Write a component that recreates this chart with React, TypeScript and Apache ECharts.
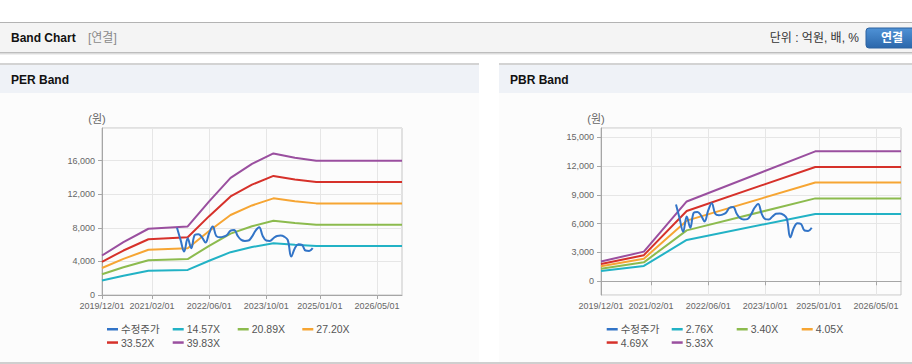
import { useEffect, useRef } from "react";
import * as echarts from "echarts";

// ---- categories (monthly, 2019/12 .. 2026/12) ----
const months: string[] = [];
for (let i = 0; i < 85; i++) {
  const t = 2019 * 12 + 11 + i;
  const y = Math.floor(t / 12);
  const m = (t % 12) + 1;
  months.push(`${y}/${String(m).padStart(2, "0")}/01`);
}
const tickLabels = ["2019/12/01", "2021/02/01", "2022/06/01", "2023/10/01", "2025/01/01", "2026/05/01"];

// ---- price (수정주가), monthly ----
const priceDates = [
  "2021/09/01", "2021/10/01", "2021/11/01", "2021/12/01", "2022/01/01", "2022/02/01", "2022/03/01",
  "2022/04/01", "2022/05/01", "2022/06/01", "2022/07/01", "2022/08/01", "2022/09/01", "2022/10/01",
  "2022/11/01", "2022/12/01", "2023/01/01", "2023/02/01", "2023/03/01", "2023/04/01", "2023/05/01",
  "2023/06/01", "2023/07/01", "2023/08/01", "2023/09/01", "2023/10/01", "2023/11/01", "2023/12/01",
  "2024/01/01", "2024/02/01", "2024/03/01", "2024/04/01", "2024/05/01", "2024/06/01", "2024/07/01",
  "2024/08/01", "2024/09/01", "2024/10/01", "2024/11/01",
];
const priceValues = [
  8000, 6560, 5170, 6750, 5570, 7150, 7230,
  6870, 6240, 7350, 8140, 7030, 6870, 6950,
  7150, 7660, 7740, 7030, 6560, 6440, 6480,
  6950, 7660, 8060, 7030, 6480, 6440, 6750,
  7030, 7070, 6950, 6560, 4580, 5570, 6040,
  5960, 5290, 5250, 5570,
];

// ---- PER band ----
const perNames = ["14.57X", "20.89X", "27.20X", "33.52X", "39.83X"];
const perDates = [
  "2019/12/01", "2020/06/01", "2021/01/01", "2021/12/01", "2022/06/01", "2022/12/01",
  "2023/06/01", "2023/12/01", "2024/06/01", "2024/12/01", "2026/12/01",
];
const per1 = [1719, 2302, 2885, 2987, 4080, 5100, 5711, 6163, 5974, 5843, 5843];
const per2 = [2465, 3301, 4136, 4282, 5849, 7312, 8189, 8836, 8565, 8377, 8377];
const per3 = [3210, 4298, 5386, 5576, 7616, 9520, 10662, 11506, 11152, 10907, 10907];
const per4 = [3955, 5296, 6637, 6872, 9386, 11732, 13140, 14179, 13743, 13442, 13442];
const per5 = [4700, 6293, 7886, 8165, 11152, 13941, 15613, 16848, 16330, 15972, 15972];

// ---- PBR band ----
const pbrNames = ["2.76X", "3.40X", "4.05X", "4.69X", "5.33X"];
const pbrDates = ["2019/12/01", "2020/12/01", "2021/12/01", "2024/12/01", "2026/12/01"];
const pbr1 = [1063, 1601, 4306, 7010, 7010];
const pbr2 = [1309, 1972, 5304, 8636, 8636];
const pbr3 = [1559, 2349, 6318, 10287, 10287];
const pbr4 = [1806, 2720, 7316, 11913, 11913];
const pbr5 = [2052, 3091, 8315, 13538, 13538];

const priceName = "수정주가";
const bandColors = ["#22b2c5", "#8cbb4e", "#f6a533", "#d6312a", "#9a4f9f"];
const priceColor = "#3274c7";

const FONT = "'Liberation Sans', 'Noto Sans CJK KR', sans-serif";

const zip = (dates: string[], vals: number[]) => dates.map((d, i) => [d, vals[i]]);
const isTick = (_i: number, v: string) => tickLabels.includes(v);

function makeAxes(gi: number) {
  return {
    type: "category",
    gridIndex: gi,
    data: months,
    boundaryGap: false,
    axisLine: { show: true, lineStyle: { color: "#a6a6a6", width: 1 } },
    axisTick: { show: true, interval: isTick, length: 4, lineStyle: { color: "#a6a6a6" } },
    axisLabel: { interval: isTick, fontSize: 9, color: "#666", margin: 6, fontFamily: FONT },
    splitLine: { show: true, interval: isTick, lineStyle: { color: "#e6e6e6", width: 1 } },
  };
}

function bandSeries(names: string[], dates: string[], arrays: number[][], gi: number) {
  return names.map((n, k) => ({
    type: "line",
    name: n,
    xAxisIndex: gi,
    yAxisIndex: gi,
    data: zip(dates, arrays[k]),
    showSymbol: false,
    symbol: "none",
    lineStyle: { color: bandColors[k], width: 2 },
    itemStyle: { color: bandColors[k] },
    z: 2,
  }));
}

function priceSeries(gi: number) {
  return {
    type: "line",
    name: priceName,
    xAxisIndex: gi,
    yAxisIndex: gi,
    data: zip(priceDates, priceValues),
    smooth: 0.4,
    showSymbol: false,
    symbol: "none",
    lineStyle: { color: priceColor, width: 2 },
    itemStyle: { color: priceColor },
    z: 3,
  };
}

function makeLegends(names: string[], colX: number[], rowY: number[]) {
  return names.map((n, i) => ({
    data: [n],
    left: colX[i % 4],
    top: rowY[Math.floor(i / 4)] - 6,
    icon: "rect",
    itemWidth: 11,
    itemHeight: 2.5,
    itemGap: 0,
    padding: 0,
    selectedMode: false,
    textStyle: { fontSize: 10.5, color: "#555", fontFamily: FONT, padding: [0, 0, 0, -2] },
  }));
}

const option: any = {
  animation: false,
  textStyle: { fontFamily: FONT },
  graphic: {
    elements: [
      { type: "rect", z: -10, shape: { x: 0, y: 22, width: 912, height: 1 }, style: { fill: "#b3b3b3" } },
      { type: "rect", z: -10, shape: { x: 0, y: 23, width: 912, height: 30 }, style: { fill: "#f4f4f4" } },
      { type: "rect", z: -10, shape: { x: 0, y: 52, width: 912, height: 1 }, style: { fill: "#bdbdbd" } },
      { type: "rect", z: -10, shape: { x: 0, y: 53, width: 912, height: 1 }, style: { fill: "#dcdcdc" } },
      { type: "rect", z: -10, shape: { x: 0, y: 54, width: 912, height: 1 }, style: { fill: "#efefef" } },
      { type: "text", z: 10, x: 11, y: 38, style: { text: "Band Chart", fill: "#111", font: `bold 12px ${FONT}`, textVerticalAlign: "middle" } },
      { type: "text", z: 10, x: 88, y: 38, style: { text: "[연결]", fill: "#8a8a8a", font: `12px ${FONT}`, textVerticalAlign: "middle" } },
      { type: "text", z: 10, x: 859, y: 38, style: { text: "단위 : 억원, 배, %", fill: "#333", font: `12px ${FONT}`, textAlign: "right", textVerticalAlign: "middle" } },
      {
        type: "rect", z: 5, shape: { x: 866, y: 28, width: 54, height: 20, r: 3 },
        style: {
          fill: new echarts.graphic.LinearGradient(0, 0, 0, 1, [
            { offset: 0, color: "#4f92d6" },
            { offset: 1, color: "#2b67ab" },
          ]),
          stroke: "#2c62a0",
        },
      },
      { type: "text", z: 10, x: 892, y: 38, style: { text: "연결", fill: "#fff", font: `bold 12px ${FONT}`, textAlign: "center", textVerticalAlign: "middle" } },

      // left panel
      { type: "rect", z: -10, shape: { x: 0, y: 63, width: 479, height: 2 }, style: { fill: "#d3d3d3" } },
      { type: "rect", z: -10, shape: { x: 0, y: 65, width: 479, height: 28 }, style: { fill: "#eff2f7" } },
      { type: "rect", z: -10, shape: { x: 0, y: 93, width: 479, height: 269 }, style: { fill: "#fcfcfc" } },
      { type: "text", z: 10, x: 11, y: 80, style: { text: "PER Band", fill: "#111", font: `bold 12px ${FONT}`, textVerticalAlign: "middle" } },
      // right panel
      { type: "rect", z: -10, shape: { x: 499, y: 63, width: 413, height: 2 }, style: { fill: "#d3d3d3" } },
      { type: "rect", z: -10, shape: { x: 499, y: 65, width: 413, height: 28 }, style: { fill: "#eff2f7" } },
      { type: "rect", z: -10, shape: { x: 499, y: 93, width: 413, height: 269 }, style: { fill: "#fcfcfc" } },
      { type: "text", z: 10, x: 510, y: 80, style: { text: "PBR Band", fill: "#111", font: `bold 12px ${FONT}`, textVerticalAlign: "middle" } },
      // bottom line
      { type: "rect", z: -10, shape: { x: 0, y: 362, width: 912, height: 2 }, style: { fill: "#cfcfcf" } },
    ],
  },
  grid: [
    { left: 102, top: 128, width: 300, height: 167, show: true, borderColor: "#c6c6c6", borderWidth: 1, backgroundColor: "transparent" },
    { left: 601, top: 128, width: 300, height: 167, show: true, borderColor: "#c6c6c6", borderWidth: 1, backgroundColor: "transparent" },
  ],
  xAxis: [makeAxes(0), makeAxes(1)],
  yAxis: [
    {
      type: "value",
      gridIndex: 0,
      min: 0,
      max: 19880,
      interval: 4000,
      name: "(원)",
      nameLocation: "end",
      nameGap: 4,
      nameTextStyle: { fontSize: 11, color: "#666", padding: [0, 10, 0, 0], fontFamily: FONT },
      axisLine: { show: true, lineStyle: { color: "#a6a6a6" } },
      axisTick: { show: true, length: 4, lineStyle: { color: "#a6a6a6" } },
      axisLabel: {
        fontSize: 9, color: "#666", margin: 7, showMaxLabel: false, fontFamily: FONT,
        formatter: (v: number) => (v % 4000 === 0 ? v.toLocaleString("en-US") : ""),
      },
      splitLine: { show: true, lineStyle: { color: "#e6e6e6" } },
    },
    {
      type: "value",
      gridIndex: 1,
      min: -1430,
      max: 15970,
      splitNumber: 6,
      name: "(원)",
      nameLocation: "end",
      nameGap: 4,
      nameTextStyle: { fontSize: 11, color: "#666", padding: [0, 10, 0, 0], fontFamily: FONT },
      axisLine: { show: true, lineStyle: { color: "#a6a6a6" } },
      axisTick: { show: true, length: 4, lineStyle: { color: "#a6a6a6" } },
      axisLabel: {
        fontSize: 9, color: "#666", margin: 7, showMaxLabel: false, showMinLabel: false, fontFamily: FONT,
        formatter: (v: number) => (v % 3000 === 0 ? v.toLocaleString("en-US") : ""),
      },
      splitLine: { show: true, lineStyle: { color: "#e6e6e6" } },
    },
  ],
  legend: [
    ...makeLegends([priceName, ...perNames], [107, 172.7, 237.7, 302.3], [330, 343.3]),
    ...makeLegends([priceName, ...pbrNames], [606.7, 671.7, 736.7, 801.7], [330, 343.3]),
  ],
  series: [
    priceSeries(0),
    ...bandSeries(perNames, perDates, [per1, per2, per3, per4, per5], 0),
    priceSeries(1),
    ...bandSeries(pbrNames, pbrDates, [pbr1, pbr2, pbr3, pbr4, pbr5], 1),
  ],
};

export default function App() {
  const ref = useRef<HTMLDivElement>(null);
  useEffect(() => {
    const chart = echarts.init(ref.current!, null, { renderer: "svg", width: 912, height: 364 });
    chart.setOption(option);
    return () => chart.dispose();
  }, []);
  return <div ref={ref} style={{ position: "absolute", left: 0, top: 0, width: 912, height: 364 }} />;
}
